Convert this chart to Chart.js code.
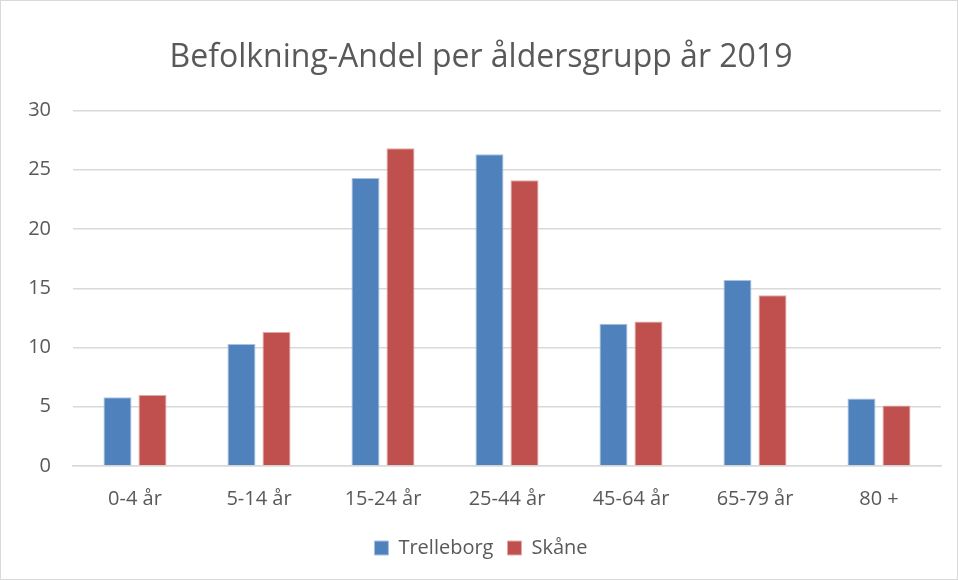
<!DOCTYPE html>
<html>
<head>
<meta charset="utf-8">
<script src="https://cdn.jsdelivr.net/npm/chart.js@4/dist/chart.umd.min.js"></script>
<style>
  html, body { margin: 0; padding: 0; background: #fff; }
  #wrap { width: 958px; height: 580px; box-sizing: border-box; border: 1px solid #d9d9d9; }
</style>
</head>
<body>
<div id="wrap"><canvas id="chart" width="956" height="578"></canvas></div>
<script>
const categories = ['0-4 år', '5-14 år', '15-24 år', '25-44 år', '45-64 år', '65-79 år', '80 +'];
const trelleborg = [5.8, 10.3, 24.3, 26.3, 12.0, 15.7, 5.7];
const skane = [6.0, 11.3, 26.8, 24.1, 12.2, 14.4, 5.1];
const yTicks = [0, 5, 10, 15, 20, 25, 30];

document.addEventListener('DOMContentLoaded', function() {
    const ctx = document.getElementById('chart');
    const grey = '#595959';

    new Chart(ctx, {
        type: 'bar',
        data: {
            labels: categories,
            datasets: [{
                label: 'Trelleborg',
                data: trelleborg,
                backgroundColor: '#4f81bd',
                borderColor: '#a9c1e0',
                borderWidth: 1
            }, {
                label: 'Skåne',
                data: skane,
                backgroundColor: '#c0504d',
                borderColor: '#e3a9a7',
                borderWidth: 1
            }]
        },
        options: {
            responsive: false,
            animation: false,
            categoryPercentage: 0.565,
            barPercentage: 0.8,
            layout: {
                padding: { left: 20, right: 16, top: 10, bottom: 11 }
            },
            scales: {
                y: {
                    min: 0,
                    max: 30,
                    afterBuildTicks: function(axis) {
                        axis.ticks = yTicks.map(v => ({ value: v }));
                    },
                    afterFit: function(axis) {
                        axis.width = 52;
                    },
                    grid: {
                        color: '#d9d9d9',
                        lineWidth: 1.4,
                        drawTicks: false
                    },
                    border: { display: false },
                    ticks: {
                        color: grey,
                        padding: 22,
                        font: { family: 'Open Sans', size: 20 }
                    }
                },
                x: {
                    grid: { display: false },
                    border: { color: '#d9d9d9', width: 1.4 },
                    ticks: {
                        color: grey,
                        padding: 13,
                        font: { family: 'Open Sans', size: 20 }
                    }
                }
            },
            plugins: {
                title: {
                    display: true,
                    text: 'Befolkning-Andel per åldersgrupp år 2019',
                    color: grey,
                    font: { family: 'Open Sans', size: 32, weight: 'normal' },
                    padding: { top: 28, bottom: 33 }
                },
                legend: {
                    position: 'bottom',
                    labels: {
                        color: grey,
                        boxWidth: 14,
                        boxHeight: 14,
                        padding: 14,
                        font: { family: 'Open Sans', size: 20 }
                    }
                },
                tooltip: { enabled: false }
            }
        }
    });
});
</script>
</body>
</html>
